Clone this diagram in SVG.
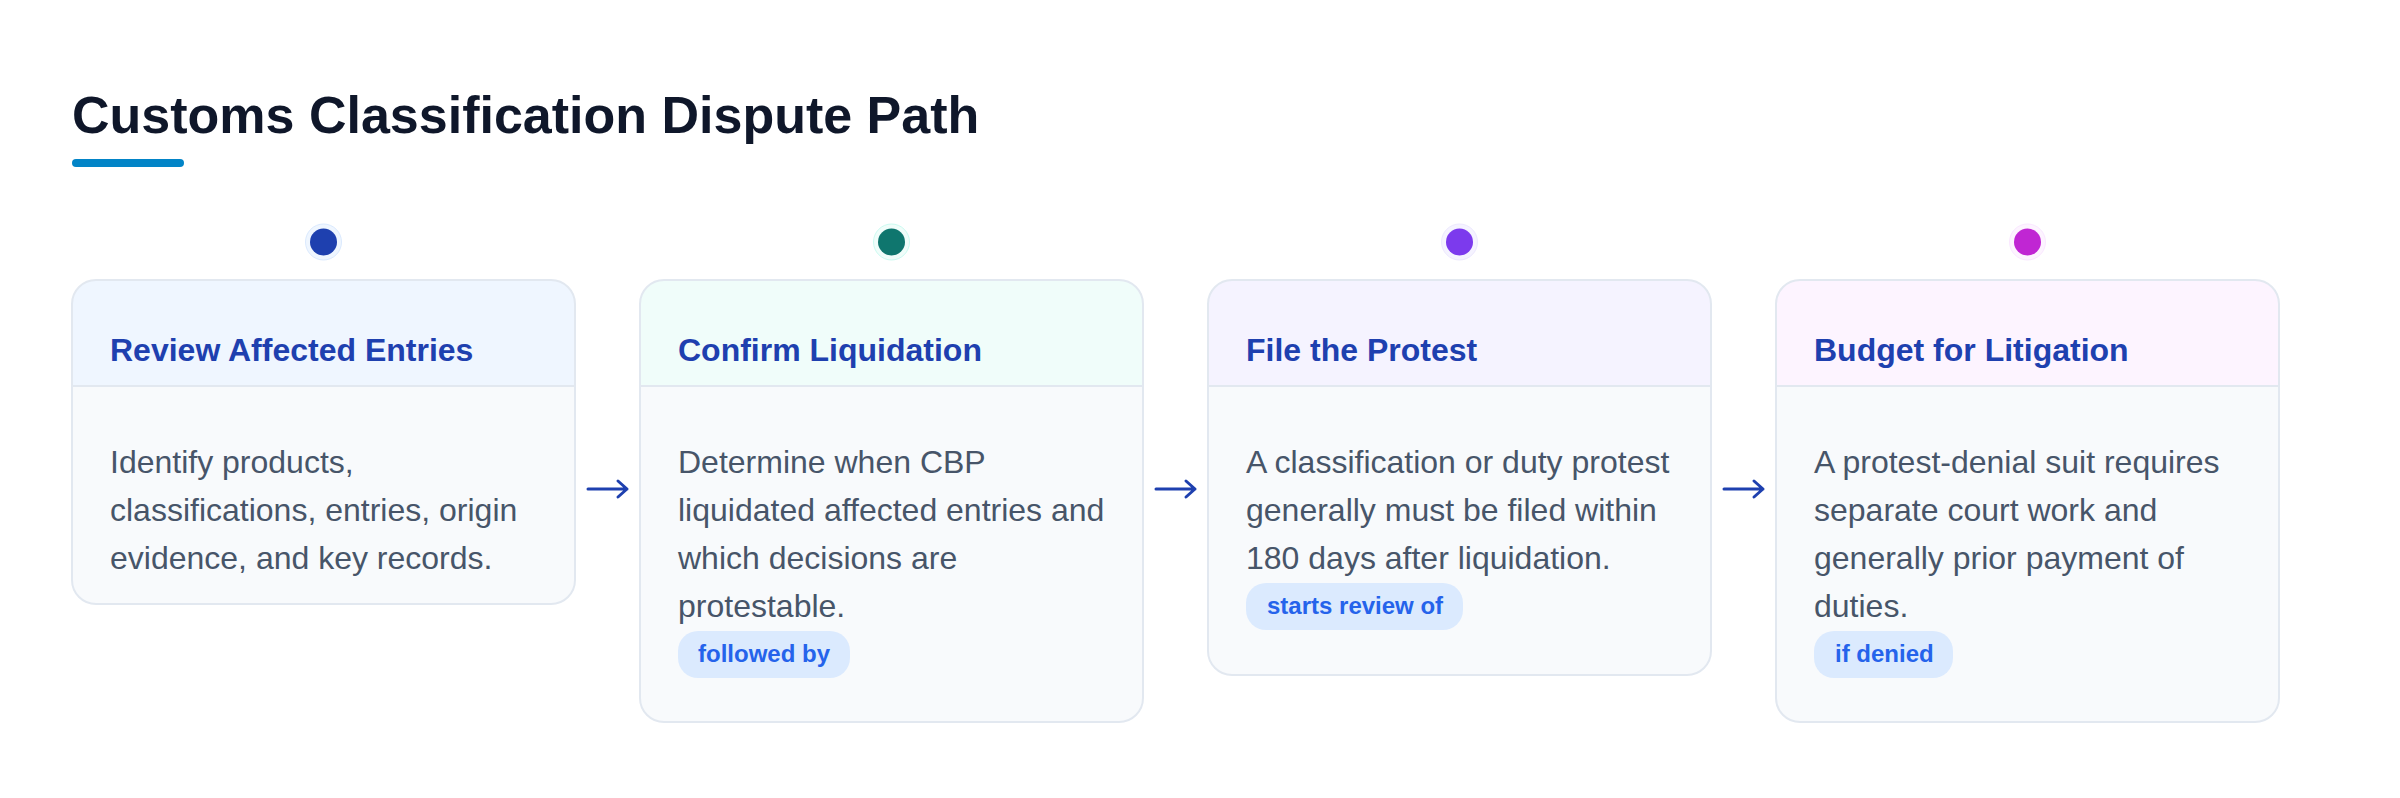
<svg xmlns="http://www.w3.org/2000/svg" width="2400" height="798" viewBox="0 0 2400 798">
  <style>
    .title { font-family: "Liberation Sans", Arial, sans-serif; font-weight: 700; font-size: 52px; fill: #0f172a; }
    .card-bg { fill: #f8fafc; }
    .card-border { fill: none; stroke: #e2e8f0; stroke-width: 2; }
    .divider { stroke: #e2e8f0; stroke-width: 2; }
    .head { font-family: "Liberation Sans", Arial, sans-serif; font-weight: 700; font-size: 32px; fill: #1e40af; }
    .body { font-family: "Liberation Sans", Arial, sans-serif; font-size: 32px; fill: #475569; }
    .badge { fill: #dbeafe; }
    .badge-text { font-family: "Liberation Sans", Arial, sans-serif; font-weight: 700; font-size: 24px; fill: #2563eb; }
    .conn { fill: none; stroke: #1e40af; stroke-width: 3; stroke-linecap: round; stroke-linejoin: round; }
  </style>

  <rect x="0" y="0" width="2400" height="798" fill="#ffffff"/>

  <g id="header">
    <text class="title" x="72" y="133">Customs Classification Dispute Path</text>
    <rect x="72" y="159" width="112" height="8" rx="4" fill="#0284c7"/>
  </g>

  <g id="step-1">
    <circle cx="323.5" cy="242" r="18" fill="#eff6ff" stroke="#dbeafe" stroke-width="1"/>
    <circle cx="323.5" cy="242" r="13.5" fill="#1e40af"/>
    <rect class="card-bg" x="72" y="280" width="503" height="324" rx="24"/>
    <path d="M72,386 V304 A24,24 0 0 1 96,280 H551 A24,24 0 0 1 575,304 V386 Z" fill="#eff6ff"/>
    <line class="divider" x1="72" y1="386" x2="575" y2="386"/>
    <rect class="card-border" x="72" y="280" width="503" height="324" rx="24"/>
    <text class="head" x="110" y="361">Review Affected Entries</text>
    <text class="body" x="110" y="473">Identify products,</text>
    <text class="body" x="110" y="521">classifications, entries, origin</text>
    <text class="body" x="110" y="569">evidence, and key records.</text>
  </g>

  <g id="step-2">
    <circle cx="891.5" cy="242" r="18" fill="#f0fdfa" stroke="#ccfbf1" stroke-width="1"/>
    <circle cx="891.5" cy="242" r="13.5" fill="#0f766e"/>
    <rect class="card-bg" x="640" y="280" width="503" height="442" rx="24"/>
    <path d="M640,386 V304 A24,24 0 0 1 664,280 H1119 A24,24 0 0 1 1143,304 V386 Z" fill="#f0fdfa"/>
    <line class="divider" x1="640" y1="386" x2="1143" y2="386"/>
    <rect class="card-border" x="640" y="280" width="503" height="442" rx="24"/>
    <text class="head" x="678" y="361">Confirm Liquidation</text>
    <text class="body" x="678" y="473">Determine when CBP</text>
    <text class="body" x="678" y="521">liquidated affected entries and</text>
    <text class="body" x="678" y="569">which decisions are</text>
    <text class="body" x="678" y="617">protestable.</text>
    <rect class="badge" x="678" y="631" width="172" height="47" rx="20"/>
    <text class="badge-text" x="698" y="662">followed by</text>
  </g>

  <g id="step-3">
    <circle cx="1459.5" cy="242" r="18" fill="#f5f3ff" stroke="#ede9fe" stroke-width="1"/>
    <circle cx="1459.5" cy="242" r="13.5" fill="#7c3aed"/>
    <rect class="card-bg" x="1208" y="280" width="503" height="395" rx="24"/>
    <path d="M1208,386 V304 A24,24 0 0 1 1232,280 H1687 A24,24 0 0 1 1711,304 V386 Z" fill="#f5f3ff"/>
    <line class="divider" x1="1208" y1="386" x2="1711" y2="386"/>
    <rect class="card-border" x="1208" y="280" width="503" height="395" rx="24"/>
    <text class="head" x="1246" y="361">File the Protest</text>
    <text class="body" x="1246" y="473">A classification or duty protest</text>
    <text class="body" x="1246" y="521">generally must be filed within</text>
    <text class="body" x="1246" y="569">180 days after liquidation.</text>
    <rect class="badge" x="1246" y="583" width="217" height="47" rx="20"/>
    <text class="badge-text" x="1267" y="614">starts review of</text>
  </g>

  <g id="step-4">
    <circle cx="2027.5" cy="242" r="18" fill="#fdf4ff" stroke="#fae8ff" stroke-width="1"/>
    <circle cx="2027.5" cy="242" r="13.5" fill="#c026d3"/>
    <rect class="card-bg" x="1776" y="280" width="503" height="442" rx="24"/>
    <path d="M1776,386 V304 A24,24 0 0 1 1800,280 H2255 A24,24 0 0 1 2279,304 V386 Z" fill="#fdf4ff"/>
    <line class="divider" x1="1776" y1="386" x2="2279" y2="386"/>
    <rect class="card-border" x="1776" y="280" width="503" height="442" rx="24"/>
    <text class="head" x="1814" y="361">Budget for Litigation</text>
    <text class="body" x="1814" y="473">A protest-denial suit requires</text>
    <text class="body" x="1814" y="521">separate court work and</text>
    <text class="body" x="1814" y="569">generally prior payment of</text>
    <text class="body" x="1814" y="617">duties.</text>
    <rect class="badge" x="1814" y="631" width="139" height="47" rx="20"/>
    <text class="badge-text" x="1835" y="662">if denied</text>
  </g>

  <g id="connectors">
    <path class="conn" d="M588,489 H627 M618,481 L627,489 L618,497"/>
    <path class="conn" d="M1156,489 H1195 M1186,481 L1195,489 L1186,497"/>
    <path class="conn" d="M1724,489 H1763 M1754,481 L1763,489 L1754,497"/>
  </g>
</svg>
